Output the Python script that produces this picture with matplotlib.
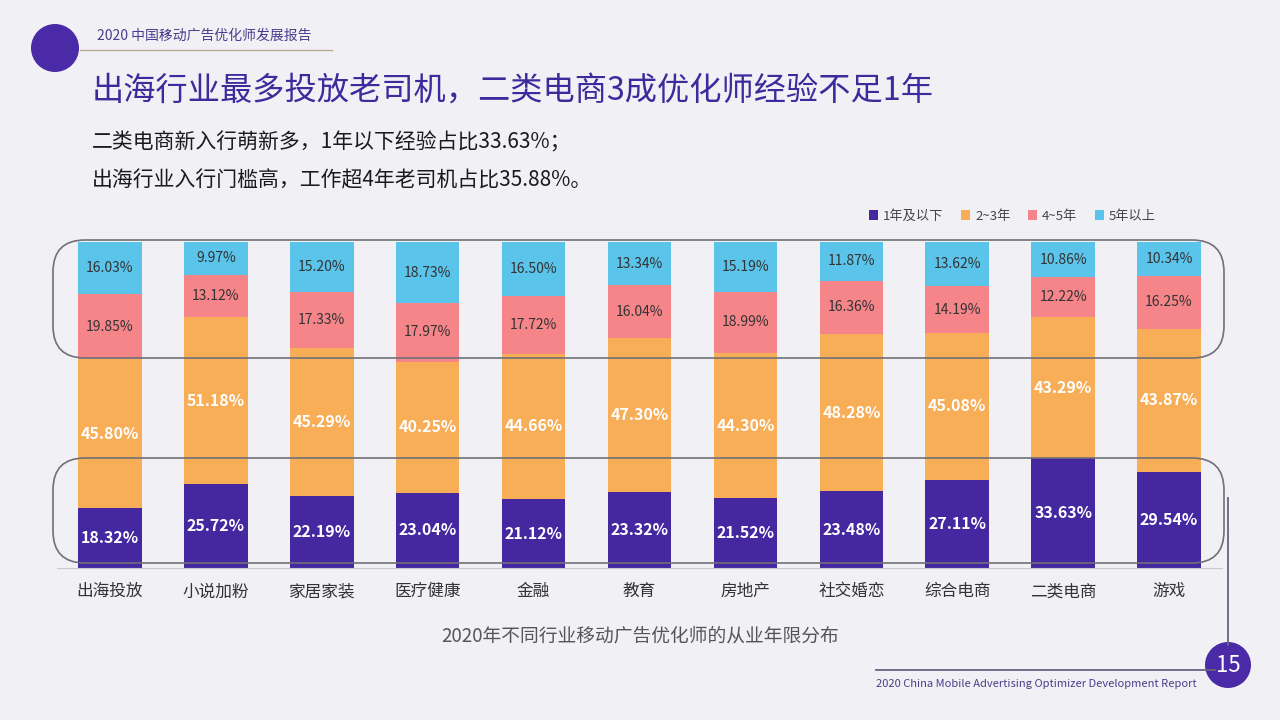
import matplotlib

matplotlib.use("Agg")
import matplotlib.pyplot as plt  # noqa: E402
import numpy as np  # noqa: E402
from matplotlib.patches import Ellipse, FancyBboxPatch  # noqa: E402

plt.rcParams["font.family"] = ["Noto Sans CJK SC", "DejaVu Sans"]

categories = ["出海投放", "小说加粉", "家居家装", "医疗健康", "金融", "教育",
              "房地产", "社交婚恋", "综合电商", "二类电商", "游戏"]
series_names = ["1年及以下", "2~3年", "4~5年", "5年以上"]
under_1 = [18.32, 25.72, 22.19, 23.04, 21.12, 23.32, 21.52, 23.48, 27.11, 33.63, 29.54]
y2_3 = [45.80, 51.18, 45.29, 40.25, 44.66, 47.30, 44.30, 48.28, 45.08, 43.29, 43.87]
y4_5 = [19.85, 13.12, 17.33, 17.97, 17.72, 16.04, 18.99, 16.36, 14.19, 12.22, 16.25]
over_5 = [16.03, 9.97, 15.20, 18.73, 16.50, 13.34, 15.19, 11.87, 13.62, 10.86, 10.34]

colors = ["#4527a0", "#f8ad57", "#f6858a", "#5bc4ea"]
PURPLE = "#4b2aa8"

W, H = 1280, 720


def fx(px):
    return px / W


def fy(py):
    return 1 - py / H


def dot(cx, cy, r):
    return Ellipse((fx(cx), fy(cy)), 2 * r / W, 2 * r / H, transform=fig.transFigure,
                   facecolor=PURPLE, edgecolor="none")


fig = plt.figure(figsize=(12.8, 7.2), dpi=100)
fig.patch.set_facecolor("#f1f0f5")

# header
fig.patches.append(dot(55, 48, 24))
fig.lines.append(plt.Line2D([fx(80), fx(332)], [fy(50), fy(50)],
                            transform=fig.transFigure, color="#b9aa94", lw=1))
fig.text(fx(97), fy(36), "2020 中国移动广告优化师发展报告", fontsize=10,
         color="#4a3d8c", va="center")
fig.text(fx(92), fy(92), "出海行业最多投放老司机，二类电商3成优化师经验不足1年",
         fontsize=23.2, color="#3d2a9c", va="center")
fig.text(fx(92), fy(142), "二类电商新入行萌新多，1年以下经验占比33.63%；",
         fontsize=15, color="#1a1a1a", va="center")
fig.text(fx(92), fy(180), "出海行业入行门槛高，工作超4年老司机占比35.88%。",
         fontsize=15, color="#1a1a1a", va="center")

# chart
ax = fig.add_axes([fx(57), fy(568), (1222 - 57) / W, 326 / H])
ax.set_facecolor("none")
x = np.arange(len(categories))
data = [under_1, y2_3, y4_5, over_5]
bottom = np.zeros(len(categories))
for i, (name, vals) in enumerate(zip(series_names, data)):
    vals = np.array(vals)
    ax.bar(x, vals, width=0.6, bottom=bottom, color=colors[i], label=name)
    for xi, b, v in zip(x, bottom, vals):
        if i < 2:
            ax.text(xi, b + v / 2, f"{v:.2f}%", ha="center", va="center",
                    color="white", fontsize=11.5, fontweight="bold")
        else:
            ax.text(xi, b + v / 2, f"{v:.2f}%", ha="center", va="center",
                    color="#333333", fontsize=10)
    bottom += vals

ax.set_xlim(-0.5, len(categories) - 0.5)
ax.set_ylim(0, 100)
ax.set_yticks([])
ax.set_xticks(x, categories)
ax.tick_params(axis="x", length=0, pad=11, labelsize=12, labelcolor="#333333")
for s in ["left", "right", "top"]:
    ax.spines[s].set_visible(False)
ax.spines["bottom"].set_color("#c8c8cc")

leg = fig.legend(loc="center right", bbox_to_anchor=(fx(1168), fy(216)), ncol=4,
                 frameon=False, fontsize=9.5, handlelength=0.7, handleheight=0.7,
                 handletextpad=0.4, columnspacing=1.3, labelcolor="#444444")

# rounded highlight boxes
for top, bot in [(240, 358), (458, 563)]:
    fig.patches.append(FancyBboxPatch((fx(53), fy(bot)), fx(1224) - fx(53), (bot - top) / H,
                                      boxstyle="round,pad=0,rounding_size=0.025",
                                      transform=fig.transFigure, facecolor="none",
                                      edgecolor="#707078", lw=1.2, mutation_aspect=W / H))

fig.text(0.5, fy(636), "2020年不同行业移动广告优化师的从业年限分布", fontsize=13.5,
         color="#555555", ha="center", va="center")

# footer
fig.lines.append(plt.Line2D([fx(1228), fx(1228)], [fy(498), fy(645)],
                            transform=fig.transFigure, color="#6a6280", lw=1.3))
fig.lines.append(plt.Line2D([fx(876), fx(1215)], [fy(670), fy(670)],
                            transform=fig.transFigure, color="#6a6280", lw=1.3))
fig.patches.append(dot(1228, 665, 23))
fig.text(fx(1228), fy(665), "15", fontsize=16, color="white", ha="center", va="center")
fig.text(fx(876), fy(684), "2020 China Mobile Advertising Optimizer Development Report",
         fontsize=8, color="#4a3d8c", va="center")

fig.savefig("out.png", dpi=100, facecolor=fig.get_facecolor())
